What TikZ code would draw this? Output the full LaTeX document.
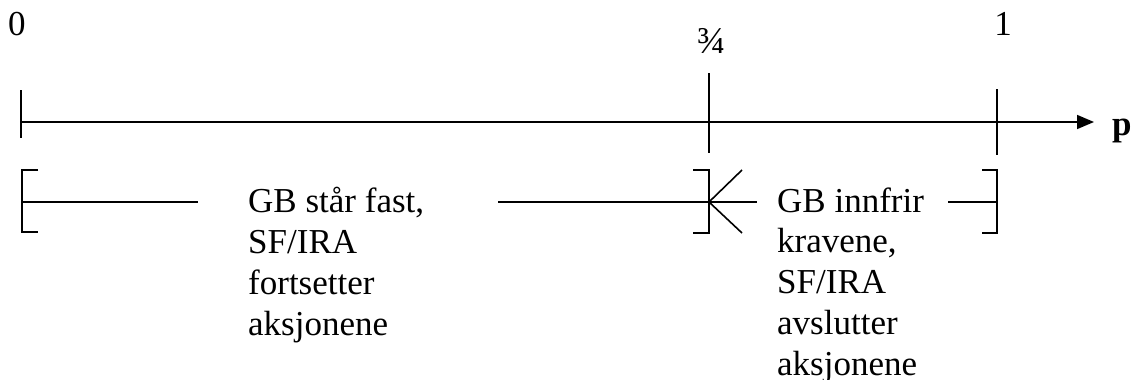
\documentclass[tikz,border=0pt]{standalone}
\usepackage{fontspec}
\setmainfont{Liberation Serif}
\usetikzlibrary{arrows.meta}
\begin{document}
\begin{tikzpicture}[x=1pt,y=-1pt,
  ln/.style={line width=1.6pt},
  lbl/.style={inner sep=0pt,font=\fontsize{35}{40.7}\selectfont},
  txt/.style={lbl,align=left,anchor=base west}]
\useasboundingbox (0,0) rectangle (1136,380);
% axis points
\coordinate (a0) at (21,122);
\coordinate (a34) at (709,122);
\coordinate (a1) at (997,122);
\coordinate (tip) at (1094,122);
\draw[ln,-{Triangle[length=17pt,width=14pt]}] (a0) -- (tip);
\draw[ln] (21,90) -- (21,138);
\draw[ln] (709,73) -- (709,153);
\draw[ln] (997,89) -- (997,155);
% labels
\node[lbl,anchor=base west] (l0) at (8,35) {0};
\node[lbl,anchor=base,font=\fontsize{38}{44}\selectfont] (l34) at (712,53) {¾};
\node[lbl,anchor=base] (l1) at (1003,35) {1};
\node[lbl,anchor=base west] (p) at (1112,135) {\textbf{p}};
% brackets
\coordinate (b0) at (22,202);
\coordinate (b34) at (709,202);
\coordinate (b1) at (997,202);
\draw[ln] (38,170) -- (22,170) -- (22,232) -- (38,232);
\draw[ln] (b0) -- (198,202);
\draw[ln] (693,170) -- (709,170) -- (709,233) -- (693,233);
\draw[ln] (498,202) -- (b34) -- (757,202);
\draw[ln] (742,170) -- (b34) -- (742,233);
\draw[ln] (982,170) -- (997,170) -- (997,233) -- (982,233);
\draw[ln] (948,202) -- (b1);
% texts (anchored at the baseline of the last line)
\node[txt] (t1) at (248,335) {GB står fast,\\SF/IRA\\fortsetter\\aksjonene};
\node[txt] (t2) at (777,375) {GB innfrir\\kravene,\\SF/IRA\\avslutter\\aksjonene};
\end{tikzpicture}
\end{document}
